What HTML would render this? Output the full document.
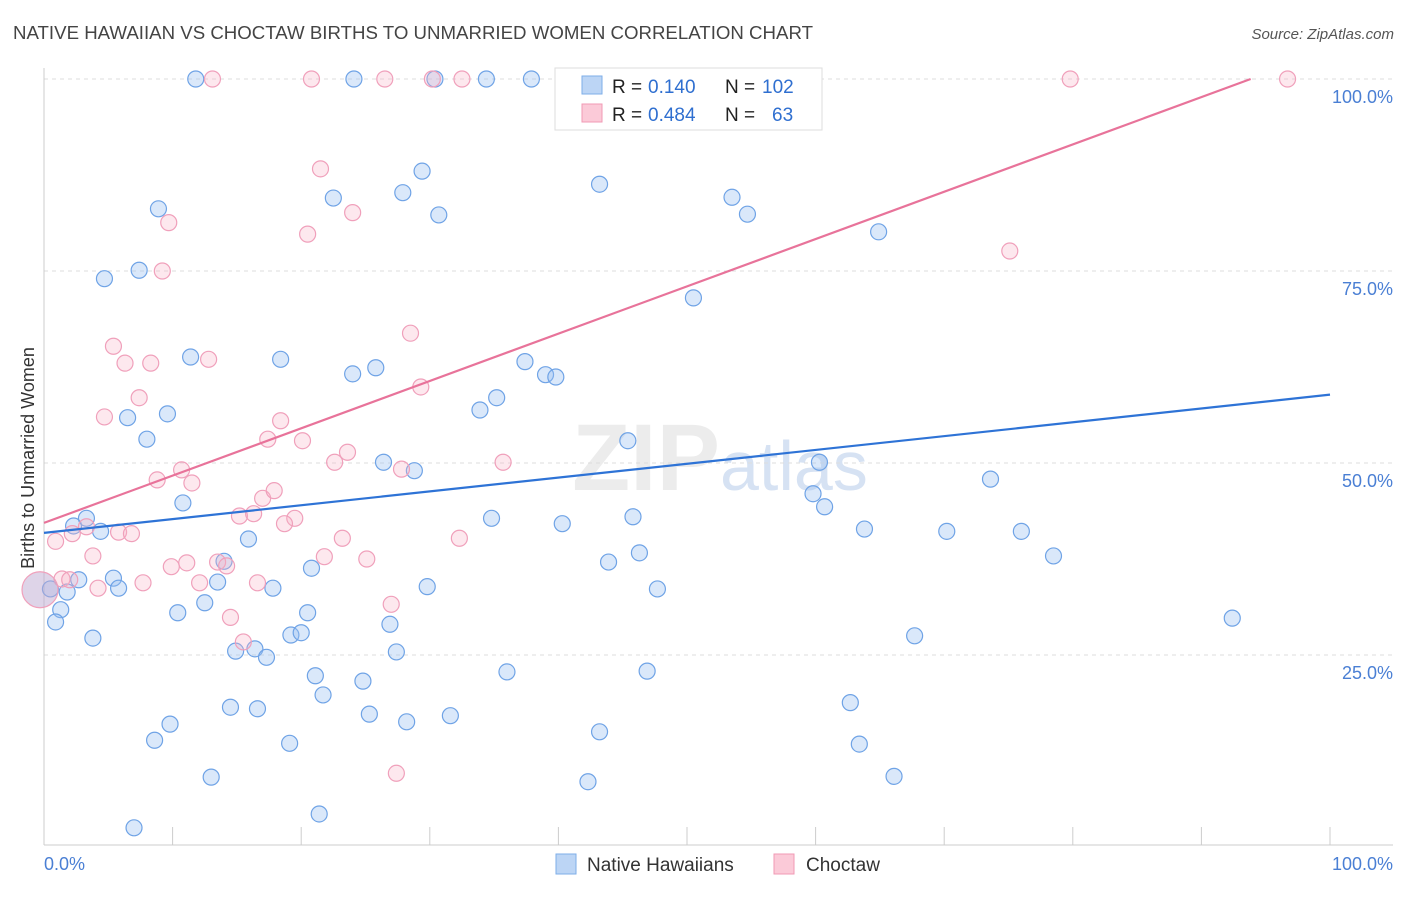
<!DOCTYPE html>
<html><head><meta charset="utf-8"><style>
body{margin:0;background:#fff;font-family:"Liberation Sans",sans-serif}
svg text{font-family:"Liberation Sans",sans-serif}
</style></head><body>
<svg id="chart" width="1406" height="892" viewBox="0 0 1406 892" xmlns="http://www.w3.org/2000/svg">
<text x="13" y="39" font-size="18" fill="#444" textLength="800" lengthAdjust="spacingAndGlyphs">NATIVE HAWAIIAN VS CHOCTAW BIRTHS TO UNMARRIED WOMEN CORRELATION CHART</text>
<text x="1394" y="39" font-size="15" fill="#555" text-anchor="end" font-style="italic">Source: ZipAtlas.com</text>
<text x="720" y="490" font-size="95" text-anchor="middle" fill="#ececec" font-family="Liberation Serif" font-weight="bold">ZIP<tspan fill="#d6e2f3" font-family="Liberation Sans" font-weight="normal" font-size="70">atlas</tspan></text>
<g id="grid"></g><g id="axes"></g><g id="pts"></g><g id="lines"></g>
<text transform="translate(34,458) rotate(-90)" font-size="18" fill="#333" text-anchor="middle">Births to Unmarried Women</text>
<g>
<rect x="555" y="68" width="267" height="62" fill="#fff" stroke="#ddd"/>
<rect x="582" y="76" width="20" height="18" fill="#bcd5f5" stroke="#7eaee8"/>
<rect x="582" y="104" width="20" height="18" fill="#fbcad8" stroke="#f09ab4"/>
<text x="612" y="93" font-size="19" fill="#222">R =</text>
<text x="648" y="93" font-size="19" fill="#2f6fd0">0.140</text>
<text x="725" y="93" font-size="19" fill="#222">N =</text>
<text x="762" y="93" font-size="19" fill="#2f6fd0">102</text>
<text x="612" y="121" font-size="19" fill="#222">R =</text>
<text x="648" y="121" font-size="19" fill="#2f6fd0">0.484</text>
<text x="725" y="121" font-size="19" fill="#222">N =</text>
<text x="772" y="121" font-size="19" fill="#2f6fd0">63</text>
</g>
<g>
<rect x="556" y="854" width="20" height="20" fill="#bcd5f5" stroke="#7eaee8"/>
<text x="587" y="871" font-size="19" fill="#333">Native Hawaiians</text>
<rect x="774" y="854" width="20" height="20" fill="#fbcad8" stroke="#f09ab4"/>
<text x="806" y="871" font-size="19" fill="#333">Choctaw</text>
</g>
</svg>
<script>
const yTicks=[25,50,75,100];
const yTickLabels=["25.0%","50.0%","75.0%","100.0%"];
const xTicks=[0,10,20,30,40,50,60,70,80,90,100];
const blueX=[11.8,24.1,34.4,37.9,30.4,41.5,44.6,51.9,8.9,22.5,27.9,29.4,30.7,43.2,53.5,54.7,64.9,4.7,7.4,50.5,11.4,18.4,24.0,25.8,37.4,39.0,39.8,6.5,9.6,8.0,33.9,35.2,45.4,26.4,28.8,60.3,73.6,10.8,59.8,60.7,2.3,3.3,4.4,15.9,34.8,40.3,45.8,63.8,70.2,76.0,46.3,43.9,78.5,14.0,20.8,5.4,2.7,5.8,13.5,17.8,29.8,47.7,1.8,0.5,1.3,0.9,10.4,12.5,20.5,3.8,19.2,20.0,26.9,67.7,92.4,14.9,16.4,17.3,27.4,36.0,46.9,21.1,24.8,21.7,14.5,16.6,25.3,28.2,31.6,62.7,9.8,8.6,19.1,43.2,63.4,13.0,42.3,66.1,7.0,21.4];
const blueY=[100,100,100,100,100,100,100,100,83.1,84.5,85.2,88.0,82.3,86.3,84.6,82.4,80.1,74.0,75.1,71.5,63.8,63.5,61.6,62.4,63.2,61.5,61.2,55.9,56.4,53.1,56.9,58.5,52.9,50.1,49.0,50.1,47.9,44.8,46.0,44.3,41.8,42.8,41.1,40.1,42.8,42.1,43.0,41.4,41.1,41.1,38.3,37.1,37.9,37.2,36.3,35.0,34.8,33.7,34.5,33.7,33.9,33.6,33.2,33.6,30.9,29.3,30.5,31.8,30.5,27.2,27.6,27.9,29.0,27.5,29.8,25.5,25.8,24.7,25.4,22.8,22.9,22.3,21.6,19.8,18.2,18.0,17.3,16.3,17.1,18.8,16.0,13.9,13.5,15.0,13.4,9.1,8.5,9.2,2.5,4.3];
const pinkX=[13.1,20.8,26.5,30.2,32.5,79.8,96.7,21.5,24.0,9.7,20.5,9.2,75.1,5.4,6.3,8.3,12.8,28.5,4.7,7.4,18.4,29.3,17.4,20.1,23.6,22.6,35.7,27.8,10.7,11.5,8.8,17.0,17.9,15.2,16.3,19.5,18.7,32.3,23.2,0.9,2.2,3.3,5.8,6.8,3.8,21.8,25.1,11.1,9.9,1.4,2.0,7.7,4.2,12.1,13.5,14.2,16.6,27.0,14.5,15.5,27.4,0];
const pinkY=[100,100,100,100,100,100,100,88.3,82.6,81.3,79.8,75.0,77.6,65.2,63.0,63.0,63.5,66.9,56.0,58.5,55.5,59.9,53.1,52.9,51.4,50.1,50.1,49.2,49.1,47.4,47.8,45.4,46.4,43.1,43.4,42.8,42.1,40.2,40.2,39.8,40.8,41.7,41.0,40.8,37.9,37.8,37.5,37.0,36.5,34.9,34.8,34.4,33.7,34.4,37.1,36.6,34.4,31.6,29.9,26.7,9.6,33.5];
const blueFit=[40.9,58.9];
const pinkFit=[42.2,103.8];
const X=v=>44+v*12.86, Y=v=>847-v*7.68;
const NS="http://www.w3.org/2000/svg";
function mk(t,a,p){const e=document.createElementNS(NS,t);for(const k in a)e.setAttribute(k,a[k]);p.appendChild(e);return e;}
const grid=document.getElementById('grid'),axes=document.getElementById('axes'),pts=document.getElementById('pts'),lines=document.getElementById('lines');
mk('line',{x1:44,y1:79,x2:1393,y2:79,stroke:'#ddd','stroke-dasharray':'4,4'},grid);
yTicks.forEach((t,i)=>{
 const l=mk('line',{x1:44,y1:Y(t),x2:1393,y2:Y(t),stroke:'#ddd','stroke-dasharray':'4,4'},grid);
 
 
 const tx=mk('text',{x:1393,y:Y(t)+24,'font-size':18,fill:'#4a7fd4','text-anchor':'end'},axes);
 tx.textContent=yTickLabels[i];
 
 
});
const ax=mk('line',{x1:44,y1:845,x2:1393,y2:845,stroke:'#ccc'},axes);


const ay=mk('line',{x1:44,y1:68,x2:44,y2:845,stroke:'#ccc'},axes);


xTicks.forEach(t=>{const l=mk('line',{x1:X(t),y1:827,x2:X(t),y2:845,stroke:'#ccc'},axes);
 
 });
const x0=mk('text',{x:44,y:870,'font-size':18,fill:'#4a7fd4'},axes);x0.textContent='0.0%';


const x1=mk('text',{x:1393,y:870,'font-size':18,fill:'#4a7fd4','text-anchor':'end'},axes);x1.textContent='100.0%';


blueX.forEach((v,i)=>{const c=mk('circle',{cx:X(v),cy:Y(blueY[i]),r:8,fill:'rgba(150,190,240,0.35)',stroke:'#6fa3e6','stroke-width':1.2},pts);
 
 });
pinkX.forEach((v,i)=>{const big=i===pinkX.length-1;const c=mk('circle',{cx:X(v)-(big?4:0),cy:Y(pinkY[i]),r:big?18:8,fill:big?'rgba(190,170,210,0.5)':'rgba(248,180,200,0.3)',stroke:'#f0a0bb','stroke-width':1.2},pts);
 
 });
const bl=mk('line',{x1:X(0),y1:Y(blueFit[0]),x2:X(100),y2:Y(blueFit[1]),stroke:'#2e73d6','stroke-width':2.2},lines);


const xe=(100-pinkFit[0])/(pinkFit[1]-pinkFit[0])*100;
const pl=mk('line',{x1:X(0),y1:Y(pinkFit[0]),x2:X(xe),y2:Y(100),stroke:'#e8739a','stroke-width':2.2},lines);


</script>
</body></html>
